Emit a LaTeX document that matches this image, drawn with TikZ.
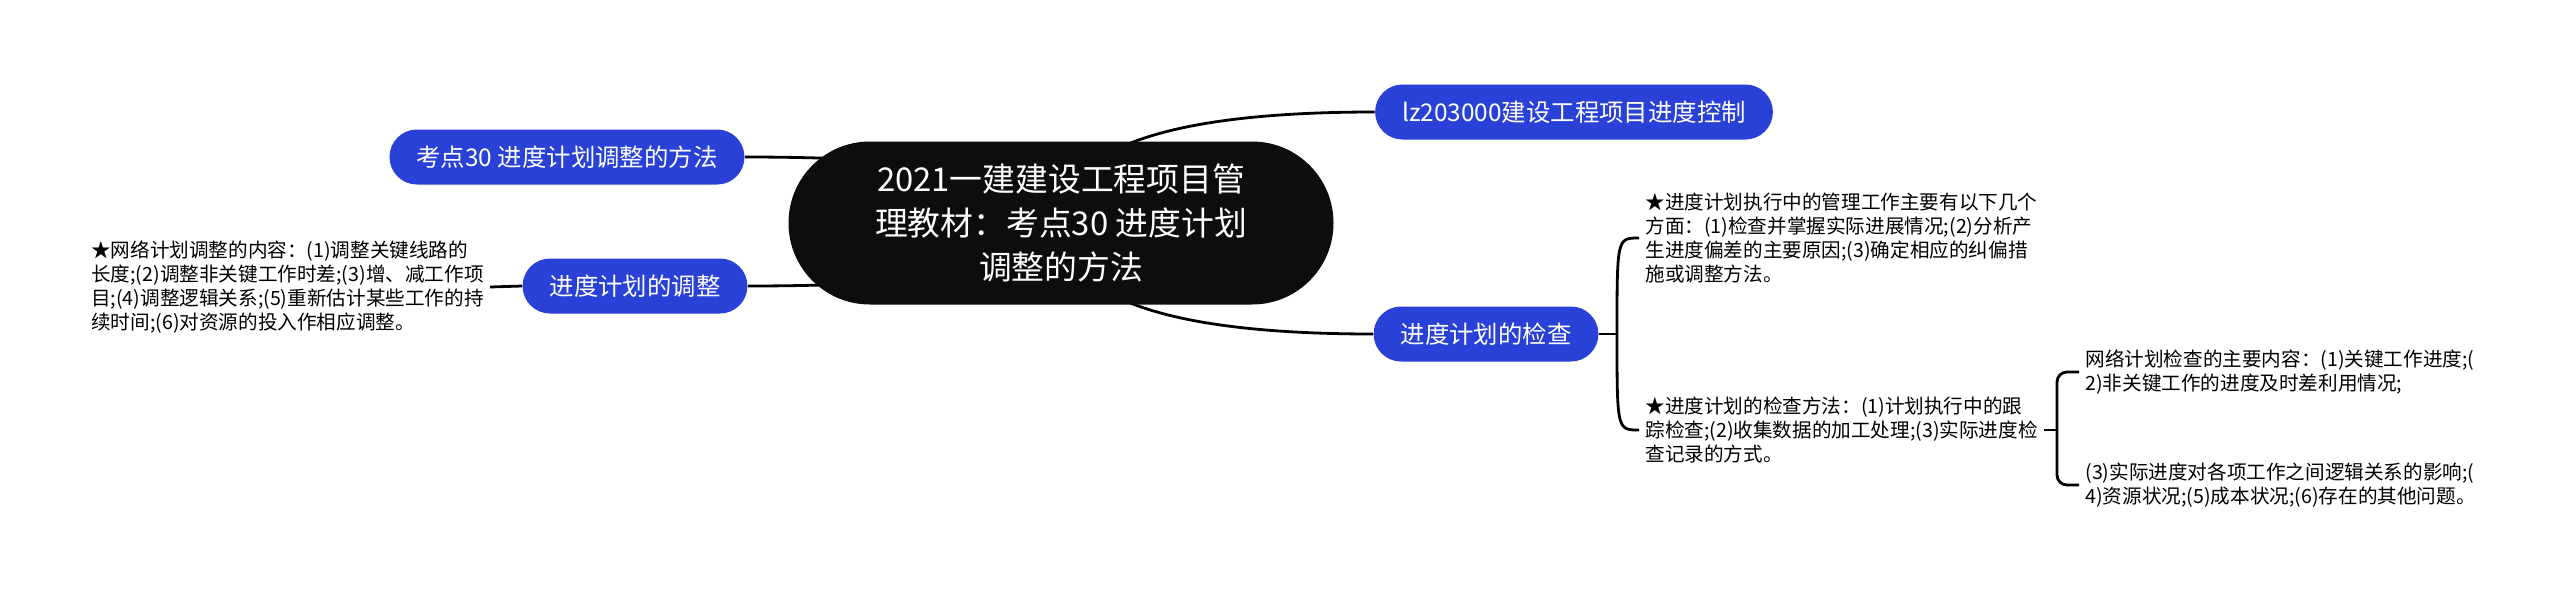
\documentclass[tikz,border=0pt]{standalone}
\usepackage{fontspec}
\setmainfont{Noto Sans CJK SC}
\usetikzlibrary{backgrounds,calc}
\definecolor{topicblue}{RGB}{41,65,214}
\definecolor{rootblack}{RGB}{13,13,13}
\tikzset{
	root/.style={rectangle, rounded corners=40.7pt, fill=rootblack, text=white, align=center, minimum width=272.5pt, minimum height=81.5pt, font=\fontsize{16.4}{22}\selectfont},
	topic/.style={rectangle, rounded corners=13.7pt, fill=topicblue, text=white, minimum height=27.5pt, inner xsep=13.5pt, font=\fontsize{12.2}{14}\selectfont},
	leaf/.style={align=left, inner sep=3pt, font=\fontsize{9.8}{12.1}\selectfont},
	link/.style={line width=1.4pt},
}
% curved branch from the root to a topic
\newcommand{\branch}[2]{\draw[link] (#1.center) .. controls ($(#1.center)!0.667!(#1.center |- #2)$) and ($(#2)!0.667!(#1.center |- #2)$) .. (#2);}
\begin{document}
\begin{tikzpicture}[x=0.5pt, y=-0.5pt]
	\useasboundingbox (0,0) rectangle (2560,600);
	
	\node[root] (R) at (1061,223) {2021一建建设工程项目管\\理教材：考点30 进度计划\\调整的方法};
	\node[topic] (C) at (1574,112) {lz203000建设工程项目进度控制};
	\node[topic] (K) at (567,157) {考点30 进度计划调整的方法};
	\node[topic] (A) at (635,286) {进度计划的调整};
	\node[topic] (J) at (1486,334) {进度计划的检查};
	
	\node[leaf, anchor=east] (A1) at (490,287) {★网络计划调整的内容：(1)调整关键线路的\\长度;(2)调整非关键工作时差;(3)增、减工作项\\目;(4)调整逻辑关系;(5)重新估计某些工作的持\\续时间;(6)对资源的投入作相应调整。};
	\node[leaf, anchor=west] (J1) at (1639,238) {★进度计划执行中的管理工作主要有以下几个\\方面：(1)检查并掌握实际进展情况;(2)分析产\\生进度偏差的主要原因;(3)确定相应的纠偏措\\施或调整方法。};
	\node[leaf, anchor=west] (J2) at (1639,430) {★进度计划的检查方法：(1)计划执行中的跟\\踪检查;(2)收集数据的加工处理;(3)实际进度检\\查记录的方式。};
	\node[leaf, anchor=west] (J21) at (2079,372) {网络计划检查的主要内容：(1)关键工作进度;(\\2)非关键工作的进度及时差利用情况;};
	\node[leaf, anchor=west] (J22) at (2079,485) {(3)实际进度对各项工作之间逻辑关系的影响;(\\4)资源状况;(5)成本状况;(6)存在的其他问题。};
	
	\coordinate (b1) at (1617,334);
	\coordinate (b2) at (2057,430);
	
	\begin{scope}[on background layer]
	\fill[white] (0,0) rectangle (2560,600);
	\branch{R}{C.west}
	\branch{R}{J.west}
	\branch{R}{K.east}
	\branch{R}{A.east}
	\end{scope}
	
	\draw[link] (A.west) -- (A1.east);
	\draw[link] (J.east) -- (b1);
	\draw[link] (b1) .. controls (b1 |- J1.west) .. (J1.west);
	\draw[link] (b1) .. controls (b1 |- J2.west) .. (J2.west);
	\draw[link] (J2.east) -- (b2);
	\draw[link, rounded corners=5pt] (b2) |- (J21.west);
	\draw[link, rounded corners=5pt] (b2) |- (J22.west);
\end{tikzpicture}
\end{document}
